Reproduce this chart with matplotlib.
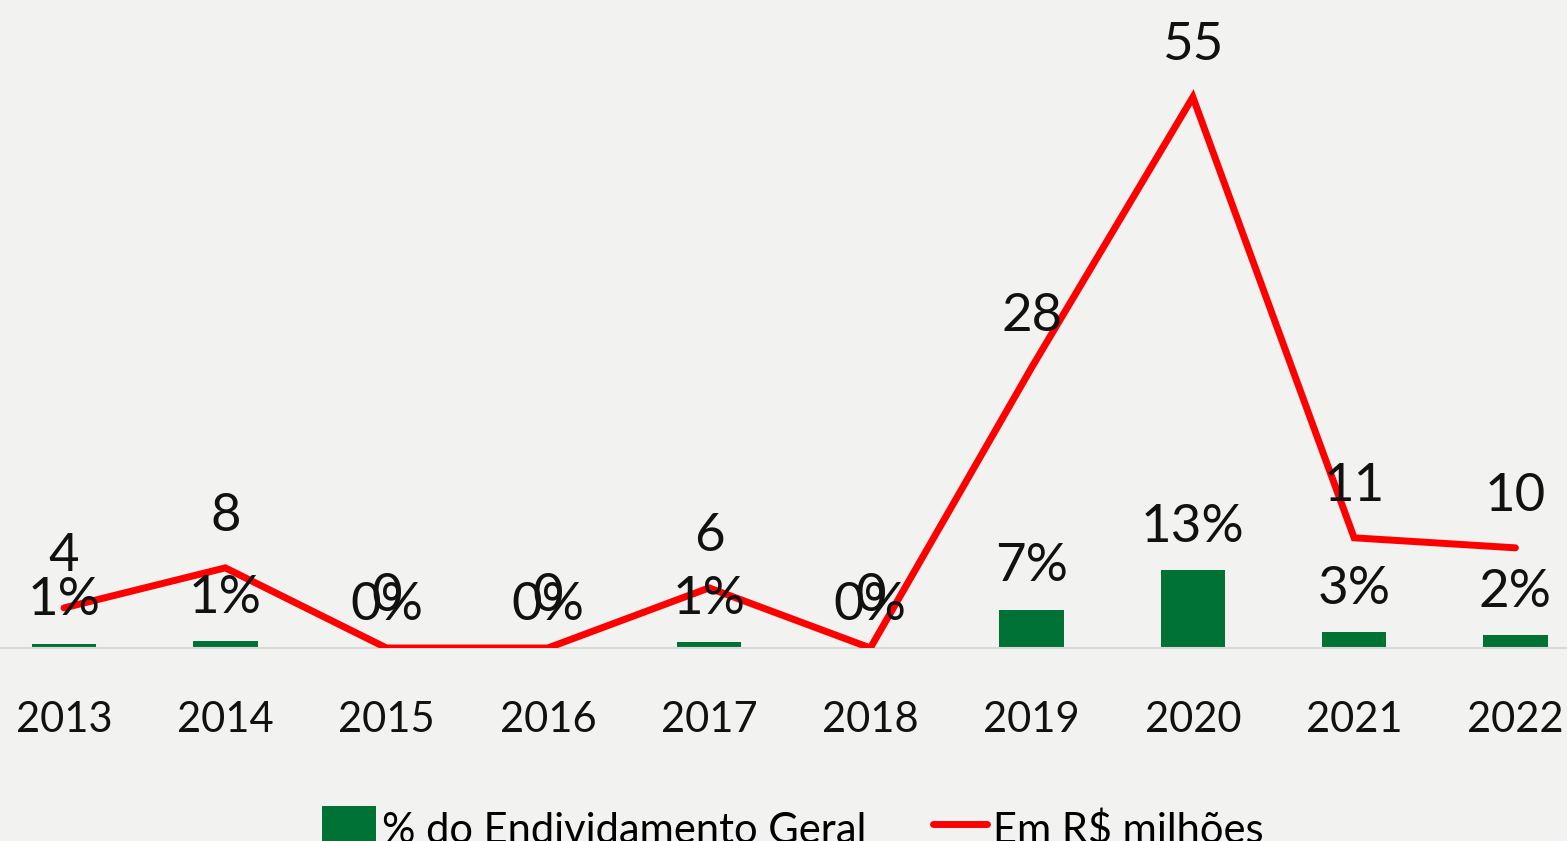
import matplotlib
matplotlib.use("Agg")
import matplotlib.pyplot as plt
from matplotlib.patches import Patch
from matplotlib.lines import Line2D

years = ["2013", "2014", "2015", "2016", "2017", "2018", "2019", "2020", "2021", "2022"]
pct_debt = [0.7, 1.2, 0.0, 0.0, 1.0, 0.0, 6.6, 13.4, 2.7, 2.2]   # % do Endividamento Geral
amount_mi = [4, 8, 0, 0, 6, 0, 28, 55, 11, 10]                    # Em R$ milhões

GREEN = "#007236"
RED = "#FF0000"
BG = "#F2F2F1"

plt.rcParams["font.family"] = ["Lato", "DejaVu Sans"]

fig = plt.figure(figsize=(15.67, 8.41), dpi=100, facecolor=BG)
ax = fig.add_axes([0.0, 0.2295, 1.0, 0.7705])
ax.set_facecolor(BG)
x = list(range(len(years)))

bars = ax.bar(x, pct_debt, width=0.4, color=GREEN, zorder=2)
ax.set_xlim(-0.397, 9.32)
ax.set_ylim(0, 111.3)

ax2 = ax.twinx()
ax2.plot(x, amount_mi, color=RED, lw=5, solid_capstyle="round",
         solid_joinstyle="miter", zorder=3)
ax2.set_ylim(0, 64.7)

for a in (ax, ax2):
    for side in ("top", "right", "left"):
        a.spines[side].set_visible(False)
    a.set_yticks([])
ax.spines["bottom"].set_color("#D9D9D9")
ax.spines["bottom"].set_linewidth(1.5)
ax2.spines["bottom"].set_visible(False)

ax.set_xticks(x)
ax.set_xticklabels(years, fontsize=30, color="#111111")
ax.tick_params(axis="x", length=0, pad=38)

# bar value labels
for xi, v in zip(x, pct_debt):
    ax2.annotate(f"{v:.0f}%", xy=(xi, v), xycoords=ax.transData,
                 xytext=(0, 20.5), textcoords="offset points",
                 ha="center", va="baseline", fontsize=38, color="#111111", zorder=5)

# line value labels
for xi, v in zip(x, amount_mi):
    ax2.annotate(f"{v}", xy=(xi, v), xytext=(0, 26.5), textcoords="offset points",
                 ha="center", va="baseline", fontsize=38, color="#111111", zorder=5)

handles = [Patch(facecolor=GREEN, edgecolor="none"),
           Line2D([0], [0], color=RED, lw=5, solid_capstyle="round")]
labels = ["% do Endividamento Geral", "Em R$ milhões"]
fig.legend(handles, labels, loc="lower center", bbox_to_anchor=(0.506, -0.057),
           ncol=2, frameon=False, fontsize=30, handlelength=1.3, handleheight=1.3,
           handletextpad=0.15, columnspacing=1.58)

fig.savefig("out.png", dpi=100, facecolor=BG)
